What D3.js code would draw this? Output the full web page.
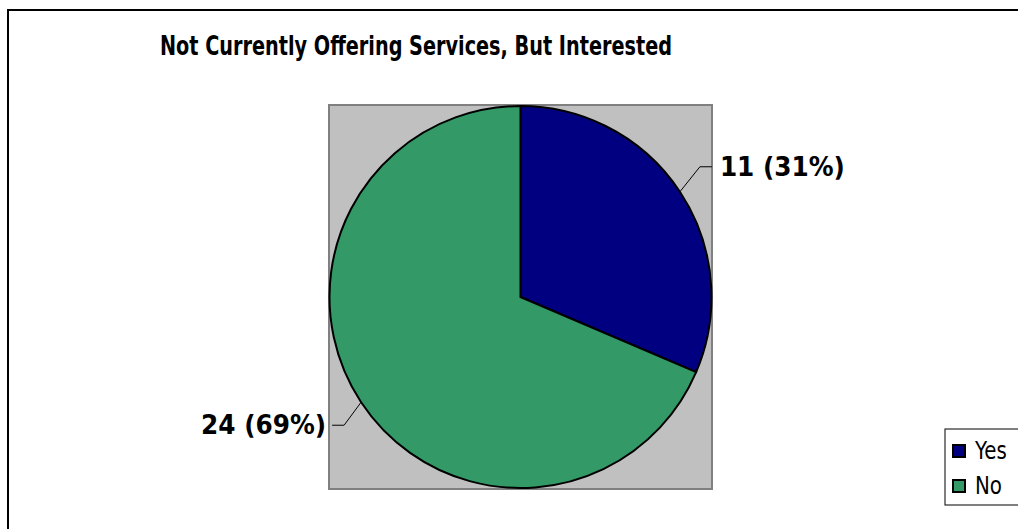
<!DOCTYPE html>
<html><head><meta charset="utf-8">
<script src="https://cdn.jsdelivr.net/npm/d3@7"></script>
<style>body{margin:0;background:#fff;}svg{display:block;}</style>
</head><body>
<svg id="c" width="1018" height="529"></svg>
<script>
const categories = ["Yes", "No"];
const values = [11, 24];
const colors = ["#000080", "#339966"];
const title = "Not Currently Offering Services, But Interested";

const svg = d3.select("#c");
const FF = "'DejaVu Sans Condensed', 'DejaVu Sans'";
// outer chart border
svg.append("rect").attr("x", 8).attr("y", 10).attr("width", 1030).attr("height", 540)
  .attr("fill", "#fff").attr("stroke", "#000").attr("stroke-width", 2);

svg.append("text").attr("x", 416).attr("y", 55).attr("text-anchor", "middle")
  .attr("textLength", 512).attr("lengthAdjust", "spacingAndGlyphs")
  .style("font-family", FF).style("font-weight", "bold")
  .style("font-size", "26px").text(title);

// plot area
const pa = {x: 329, y: 105, w: 383, h: 384};
svg.append("rect").attr("x", pa.x).attr("y", pa.y).attr("width", pa.w).attr("height", pa.h)
  .attr("fill", "#c0c0c0").attr("stroke", "#808080").attr("stroke-width", 2);

const cx = pa.x + pa.w / 2, cy = pa.y + pa.h / 2, r = 191;
const total = d3.sum(values);
const data = categories.map((c, i) => ({cat: c, value: values[i], color: colors[i]}));
const pie = d3.pie().value(d => d.value).sort(null);
const arcs = pie(data);
const arc = d3.arc().innerRadius(0).outerRadius(r);
const g = svg.append("g").attr("transform", `translate(${cx},${cy})`);
g.selectAll("path").data(arcs).join("path").attr("d", arc)
  .attr("fill", d => d.data.color).attr("stroke", "#000").attr("stroke-width", 2);

// labels with leader lines
const fmt = d => `${d.data.value} (${Math.round(d.data.value / total * 100)}%)`;
arcs.forEach((a, i) => {
  const right = i === 0;
  const ang = (a.startAngle + a.endAngle) / 2;
  const p0 = [Math.sin(ang) * r, -Math.cos(ang) * r];
  const p1 = [p0[0] + (right ? 20 : -17), p0[1] + (right ? -25 : 23)];
  const p2 = [p1[0] + (right ? 12 : -12), p1[1]];
  g.append("polyline").attr("points", [p0, p1, p2].map(p => p.join(",")).join(" "))
    .attr("fill", "none").attr("stroke", "#000").attr("stroke-width", 1);
  g.append("text").attr("x", p2[0] + (right ? 8 : -6)).attr("y", p2[1] + 9)
    .attr("text-anchor", right ? "start" : "end")
    .attr("textLength", 125).attr("lengthAdjust", "spacingAndGlyphs")
    .style("font-family", FF).style("font-weight", "bold").style("font-size", "27px")
    .text(fmt(a));
});

// legend
const lg = svg.append("g");
lg.append("rect").attr("x", 945).attr("y", 429).attr("width", 100).attr("height", 76)
  .attr("fill", "#fff").attr("stroke", "#000").attr("stroke-width", 1);
data.forEach((d, i) => {
  const y = 451 + i * 35;
  lg.append("rect").attr("x", 953).attr("y", y - 6).attr("width", 12).attr("height", 12)
    .attr("fill", d.color).attr("stroke", "#000").attr("stroke-width", 2);
  lg.append("text").attr("transform", `translate(975,${y + 8}) scale(0.92,1)`)
    .style("font-family", FF).style("font-size", "24px").text(d.cat);
});
</script>
</body></html>
